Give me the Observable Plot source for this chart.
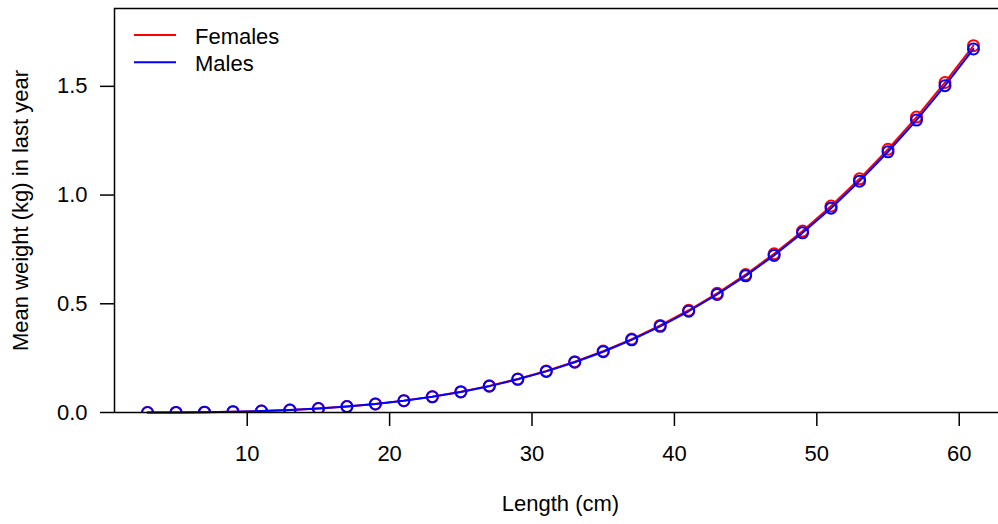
<!DOCTYPE html>
<html>
<head>
<meta charset="utf-8">
<script src="https://cdn.jsdelivr.net/npm/d3@7"></script>
<script src="https://cdn.jsdelivr.net/npm/@observablehq/plot@0.6"></script>
<style>
  html, body { margin: 0; padding: 0; background: #fff; overflow: hidden; }
  #chart { width: 998px; height: 524px; overflow: hidden; }
  #chart svg { max-width: none !important; display: block; }
</style>
</head>
<body>
<div id="chart"></div>
<script>
const lengths = [3, 5, 7, 9, 11, 13, 15, 17, 19, 21, 23, 25, 27, 29, 31, 33, 35, 37, 39, 41, 43, 45, 47, 49, 51, 53, 55, 57, 59, 61];
const females = [0.0001, 0.0005, 0.0016, 0.0036, 0.0068, 0.0116, 0.0185, 0.0276, 0.0395, 0.0546, 0.0730, 0.0956, 0.1225, 0.1542, 0.1910, 0.2337, 0.2824, 0.3378, 0.4003, 0.4703, 0.5480, 0.6346, 0.7298, 0.8347, 0.9493, 1.0747, 1.2107, 1.3586, 1.5178, 1.6870];
const males = [0.0001, 0.0005, 0.0016, 0.0036, 0.0067, 0.0114, 0.0182, 0.0272, 0.0390, 0.0540, 0.0722, 0.0946, 0.1212, 0.1527, 0.1890, 0.2312, 0.2796, 0.3343, 0.3962, 0.4656, 0.5428, 0.6285, 0.7226, 0.8263, 0.9398, 1.0640, 1.1990, 1.3450, 1.5030, 1.6720];
const seriesNames = ["Females", "Males"];
const seriesColors = ["#ff0000", "#0000ff"];
const xTicks = [10, 20, 30, 40, 50, 60];
const yTicks = [0, 0.5, 1.0, 1.5];
const xLabel = "Length (cm)";
const yLabel = "Mean weight (kg) in last year";

const fem = lengths.map((L, i) => ({L, w: females[i]}));
const mal = lengths.map((L, i) => ({L, w: males[i]}));

const font = "'Liberation Sans', Arial, Helvetica, sans-serif";

const chart = Plot.plot({
  width: 1006,
  height: 524,
  marginLeft: 114,
  marginRight: 0,
  marginTop: 8,
  marginBottom: 112,
  style: {fontFamily: font, fontSize: "22px", color: "#000", background: "#fff"},
  x: {domain: [0.68, 63.32]},
  y: {domain: [0, 1.858]},
  marks: [
    Plot.axisX({ticks: xTicks, tickSize: 14, tickPadding: 19, fontSize: 22, label: null, strokeWidth: 1.5}),
    Plot.axisY({ticks: yTicks, tickSize: 14, tickPadding: 13, fontSize: 22, tickFormat: d3.format(".1f"), label: null, strokeWidth: 1.5}),
    Plot.line(fem, {x: "L", y: "w", stroke: seriesColors[0], strokeWidth: 2}),
    Plot.dot(fem, {x: "L", y: "w", r: 5.5, stroke: seriesColors[0], strokeWidth: 2, clip: true}),
    Plot.line(mal, {x: "L", y: "w", stroke: seriesColors[1], strokeWidth: 2}),
    Plot.dot(mal, {x: "L", y: "w", r: 5.5, stroke: seriesColors[1], strokeWidth: 2, clip: true}),
    Plot.frame({stroke: "#000", strokeWidth: 1.5}),
    Plot.text([xLabel], {frameAnchor: "bottom", dy: 98, fontSize: 22, fill: "#000"}),
    Plot.text([yLabel], {frameAnchor: "left", textAnchor: "middle", lineAnchor: "middle", rotate: -90, dx: -94, fontSize: 22, fill: "#000"})
  ]
});

// legend
const svg = d3.select(chart);
const lg = svg.append("g").attr("font-family", font).attr("font-size", 22).attr("text-anchor", "start");
seriesNames.forEach((name, i) => {
  const y = 35 + i * 27.3;
  lg.append("line").attr("x1", 134).attr("x2", 176).attr("y1", y).attr("y2", y)
    .attr("stroke", seriesColors[i]).attr("stroke-width", 2);
  lg.append("text").attr("x", 195).attr("y", y + 1).attr("dy", "0.35em").attr("fill", "#000").text(name);
});

document.getElementById("chart").appendChild(chart);
</script>
</body>
</html>
